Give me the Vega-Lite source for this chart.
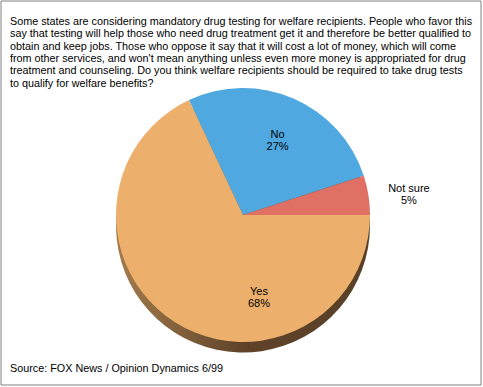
{
  "$schema": "https://vega.github.io/schema/vega-lite/v6.json",
  "width": 480,
  "height": 384,
  "autosize": {"type": "none"},
  "padding": {"left": 0.5, "top": 0.5, "right": 2.5, "bottom": 2.5},
  "background": "white",
  "view": {"stroke": "#808080", "strokeWidth": 1},
  "config": {"view": {"stroke": "#808080", "strokeWidth": 1}, "font": "Liberation Sans"},
  "title": {
    "text": [
      "Some states are considering mandatory drug testing for welfare recipients. People who favor this",
      "say that testing will help those who need drug treatment get it and therefore be better qualified to",
      "obtain and keep jobs. Those who oppose it say that it will cost a lot of money, which will come",
      "from other services, and won't mean anything unless even more money is appropriated for drug",
      "treatment and counseling. Do you think welfare recipients  should be required to take drug tests",
      "to qualify for welfare benefits?"
    ],
    "subtitle": "Source: FOX News / Opinion Dynamics 6/99",
    "anchor": "start",
    "frame": "group",
    "orient": "top",
    "font": "Liberation Sans",
    "fontSize": 10.8,
    "fontWeight": "normal",
    "color": "black",
    "lineHeight": 12.4,
    "subtitleFont": "Liberation Sans",
    "subtitleFontSize": 10.8,
    "subtitleColor": "black",
    "subtitlePadding": 274,
    "offset": -373,
    "dx": 9.5
  },
  "data": {
    "values": [
      {"answer": "No", "pct": 27, "rank": 1},
      {"answer": "Not sure", "pct": 5, "rank": 2},
      {"answer": "Yes", "pct": 68, "rank": 3}
    ]
  },
  "transform": [{"calculate": "[datum.answer, datum.pct + '%']", "as": "label"}],
  "encoding": {
    "theta": {"field": "pct", "type": "quantitative", "stack": true, "scale": {"range": [5.84336, 12.12655]}},
    "order": {"field": "rank", "type": "quantitative"}
  },
  "layer": [
    {
      "mark": {
        "type": "arc",
        "outerRadius": 127,
        "xOffset": 2.5,
        "yOffset": 33,
        "fill": {
          "gradient": "linear",
          "x1": 0, "y1": 0, "x2": 1, "y2": 0,
          "stops": [
            {"offset": 0, "color": "#a47c4c"},
            {"offset": 0.5, "color": "#5e4329"},
            {"offset": 1, "color": "#5a4028"}
          ]
        }
      }
    },
    {
      "mark": {"type": "arc", "outerRadius": 127, "xOffset": 2.5, "yOffset": 22.5},
      "encoding": {
        "color": {
          "field": "answer",
          "type": "nominal",
          "scale": {"domain": ["No", "Not sure", "Yes"], "range": ["#50a8e0", "#e07064", "#ecb06c"]},
          "legend": null
        }
      }
    },
    {
      "mark": {"type": "text", "fontSize": 11, "font": "Liberation Sans", "color": "black", "lineHeight": 12, "baseline": "middle", "xOffset": 2.5, "yOffset": 22.5, "radius": 87},
      "encoding": {
        "text": {"condition": {"test": "datum.answer == 'No'", "field": "label"}, "value": ""}
      }
    },
    {
      "mark": {"type": "text", "fontSize": 11, "font": "Liberation Sans", "color": "black", "lineHeight": 12, "baseline": "middle", "xOffset": 2.5, "yOffset": 22.5, "radius": 168},
      "encoding": {
        "text": {"condition": {"test": "datum.answer == 'Not sure'", "field": "label"}, "value": ""}
      }
    },
    {
      "transform": [{"filter": "datum.answer == 'Yes'"}],
      "mark": {"type": "text", "fontSize": 11, "font": "Liberation Sans", "color": "black", "lineHeight": 12, "baseline": "middle", "xOffset": 2.5, "yOffset": 22.5, "dx": 16, "dy": 77, "radius": 0},
      "encoding": {
        "text": {"field": "label"}
      }
    }
  ]
}
